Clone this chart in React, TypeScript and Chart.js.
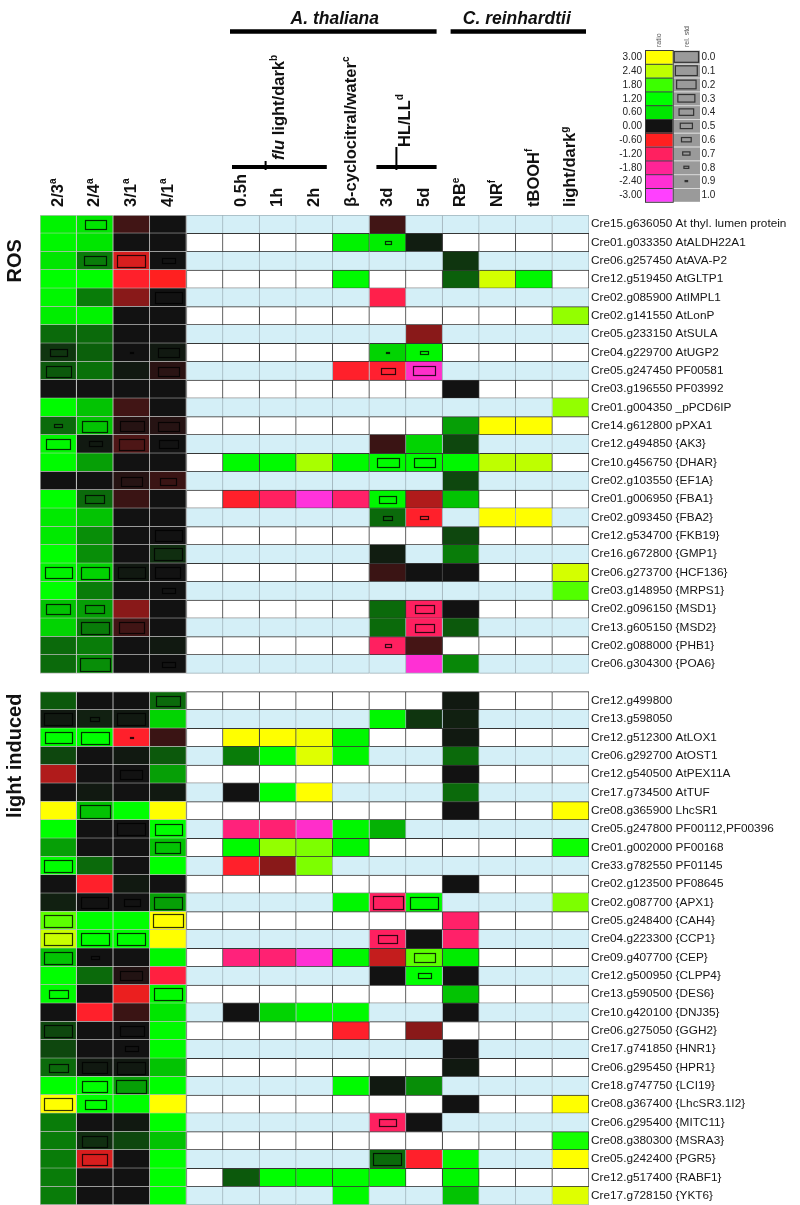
import React, { useEffect, useRef } from "react";
import { Chart, registerables } from "chart.js";

Chart.register(...registerables);

const _ = null;

// ---- row labels ----
const rosGenes = [
  "Cre15.g636050 At thyl. lumen protein",
  "Cre01.g033350 AtALDH22A1",
  "Cre06.g257450 AtAVA-P2",
  "Cre12.g519450 AtGLTP1",
  "Cre02.g085900 AtIMPL1",
  "Cre02.g141550 AtLonP",
  "Cre05.g233150 AtSULA",
  "Cre04.g229700 AtUGP2",
  "Cre05.g247450 PF00581",
  "Cre03.g196550 PF03992",
  "Cre01.g004350 _pPCD6IP",
  "Cre14.g612800 pPXA1",
  "Cre12.g494850 {AK3}",
  "Cre10.g456750 {DHAR}",
  "Cre02.g103550 {EF1A}",
  "Cre01.g006950 {FBA1}",
  "Cre02.g093450 {FBA2}",
  "Cre12.g534700 {FKB19}",
  "Cre16.g672800 {GMP1}",
  "Cre06.g273700 {HCF136}",
  "Cre03.g148950 {MRPS1}",
  "Cre02.g096150 {MSD1}",
  "Cre13.g605150 {MSD2}",
  "Cre02.g088000 {PHB1}",
  "Cre06.g304300 {POA6}",
];

const lightGenes = [
  "Cre12.g499800",
  "Cre13.g598050",
  "Cre12.g512300 AtLOX1",
  "Cre06.g292700 AtOST1",
  "Cre12.g540500 AtPEX11A",
  "Cre17.g734500 AtTUF",
  "Cre08.g365900 LhcSR1",
  "Cre05.g247800 PF00112,PF00396",
  "Cre01.g002000 PF00168",
  "Cre33.g782550 PF01145",
  "Cre02.g123500 PF08645",
  "Cre02.g087700 {APX1}",
  "Cre05.g248400 {CAH4}",
  "Cre04.g223300 {CCP1}",
  "Cre09.g407700 {CEP}",
  "Cre12.g500950 {CLPP4}",
  "Cre13.g590500 {DES6}",
  "Cre10.g420100 {DNJ35}",
  "Cre06.g275050 {GGH2}",
  "Cre17.g741850 {HNR1}",
  "Cre06.g295450 {HPR1}",
  "Cre18.g747750 {LCI19}",
  "Cre08.g367400 {LhcSR3.1I2}",
  "Cre06.g295400 {MITC11}",
  "Cre08.g380300 {MSRA3}",
  "Cre05.g242400 {PGR5}",
  "Cre12.g517400 {RABF1}",
  "Cre17.g728150 {YKT6}",
];

// ---- columns: 2/3, 2/4, 3/1, 4/1, (blank), 0.5h, 1h, 2h, β-cyclocitral, 3d, 5d, RB, NR, tBOOH, light/dark ----
const columnLabels = ["2/3", "2/4", "3/1", "4/1", "", "0.5h", "1h", "2h", "β-cyclocitral/water", "3d", "5d", "RB", "NR", "tBOOH", "light/dark"];
const columnNotes = ["a", "a", "a", "a", "", "", "", "", "c", "", "", "e", "f", "f", "g"];

// ---- log ratios (one row per gene, 14 measured columns) ----
const rosRatio = [
  [0.9, 0.6, -0.12, 0, _, _, _, _, -0.12, _, _, _, _, _],
  [1.0, 0.6, 0, 0, _, _, _, 0.9, 0.8, 0.03, _, _, _, _],
  [0.6, 0.3, -0.5, 0, _, _, _, _, _, _, 0.1, _, _, _],
  [1.2, 1.2, -0.7, -0.6, _, _, _, 1.1, _, _, 0.22, 2.6, 1.0, _],
  [1.0, 0.3, -0.3, 0, _, _, _, _, -1.0, _, _, _, _, _],
  [0.8, 0.9, 0, 0, _, _, _, _, _, _, _, _, _, 2.2],
  [0.25, 0.25, 0, 0, _, _, _, _, _, -0.3, _, _, _, _],
  [0.1, 0.22, 0, 0.02, _, _, _, _, 0.55, 1.0, _, _, _, _],
  [0.2, 0.27, 0.02, -0.06, _, _, _, -0.7, -0.75, -2.3, _, _, _, _],
  [0, 0, 0, 0, _, _, _, _, _, _, 0, _, _, _],
  [1.1, 0.5, -0.12, 0, _, _, _, _, _, _, _, _, _, 2.2],
  [0.25, 0.5, -0.05, -0.05, _, _, _, _, _, _, 0.4, 3.0, 3.0, _],
  [1.0, 0.02, -0.15, 0, _, _, _, _, -0.1, 0.55, 0.15, _, _, _],
  [1.1, 0.4, 0, 0, 1.1, 1.1, 2.3, 1.1, 1.1, 1.1, 1.0, 2.4, 2.4, _],
  [0, 0, -0.05, -0.1, _, _, _, _, _, _, 0.15, _, _, _],
  [1.2, 0.25, -0.1, 0, -0.7, -1.2, -2.5, -1.3, 1.0, -0.4, 0.5, _, _, _],
  [0.7, 0.5, 0, 0, _, _, _, _, 0.25, -0.7, _, 3.0, 3.0, _],
  [0.7, 0.35, 0, 0, _, _, _, _, _, _, 0.15, _, _, _],
  [1.2, 0.35, 0, 0.08, _, _, _, _, 0.03, _, 0.3, _, _, _],
  [0.9, 0.55, 0.02, 0, _, _, _, _, -0.1, 0, 0, _, _, 2.6],
  [1.2, 0.3, 0, 0, _, _, _, _, _, _, _, _, _, 1.9],
  [0.5, 0.4, -0.3, 0, _, _, _, _, 0.25, -1.2, 0, _, _, _],
  [0.55, 0.3, -0.12, 0, _, _, _, _, 0.25, -1.2, 0.2, _, _, _],
  [0.25, 0.3, 0, 0.02, _, _, _, _, -1.2, -0.13, _, _, _, _],
  [0.25, 0.35, 0, 0, _, _, _, _, _, -2.4, 0.33, _, _, _],
];

const lightRatio = [
  [0.2, 0, 0, 0.25, _, _, _, _, _, _, 0.02, _, _, _],
  [0.02, 0.04, 0.02, 0.55, _, _, _, _, 1.0, 0.1, 0.04, _, _, _],
  [1.2, 1.2, -0.7, -0.1, 3.0, 3.0, 2.9, 1.0, _, _, 0.02, _, _, _],
  [0.15, 0, 0.02, 0.2, 0.3, 1.1, 2.7, 1.0, _, _, 0.25, _, _, _],
  [-0.4, 0, 0, 0.4, _, _, _, _, _, _, 0, _, _, _],
  [0, 0.02, 0, 0.02, 0, 1.2, 3.0, _, _, _, 0.25, _, _, _],
  [3.0, 0.5, 1.2, 3.0, _, _, _, _, _, _, 0, _, _, 3.0],
  [1.2, 0, 0, 1.2, -1.5, -1.4, -2.3, 1.0, 0.45, _, _, _, _, _],
  [0.4, 0, 0, 0.5, 1.1, 2.2, 2.1, 1.0, _, _, _, _, _, 1.3],
  [1.2, 0.25, 0, 1.2, -0.7, -0.3, 2.1, _, _, _, _, _, _, _],
  [0, -0.7, 0.02, 0, _, _, _, _, _, _, 0, _, _, _],
  [0.04, 0, 0, 0.4, _, _, _, 1.0, -1.2, 1.1, _, _, _, 2.1],
  [1.95, 1.2, 1.2, 3.0, _, _, _, _, _, _, -1.3, _, _, _],
  [2.5, 1.2, 1.2, 3.0, _, _, _, _, -1.2, 0, -1.3, _, _, _],
  [0.5, 0, 0, 1.0, -1.5, -1.4, -2.4, 1.0, -0.45, 1.95, 0.75, _, _, _],
  [1.2, 0.25, -0.04, -0.9, _, _, _, _, 0, 1.2, 0, _, _, _],
  [1.1, 0, -0.55, 1.1, _, _, _, _, _, _, 0.5, _, _, _],
  [0, -0.7, -0.1, 0.6, 0, 0.55, 1.1, 1.1, _, _, 0, _, _, _],
  [0.15, 0, 0, 1.1, _, _, _, -0.7, _, -0.3, _, _, _, _],
  [0.15, 0, 0, 1.1, _, _, _, _, _, _, 0, _, _, _],
  [0.25, 0.02, 0.02, 0.5, _, _, _, _, _, _, 0.02, _, _, _],
  [1.2, 1.2, 0.4, 1.2, _, _, _, 1.1, 0.02, 0.35, _, _, _, _],
  [3.0, 1.2, 1.2, 3.0, _, _, _, _, _, _, 0, _, _, 3.0],
  [0.3, 0, 0.02, 1.2, _, _, _, _, -1.2, 0, _, _, _, _],
  [0.3, 0.08, 0.15, 0.5, _, _, _, _, _, _, _, _, _, 1.4],
  [0.3, -0.5, 0, 1.2, _, _, _, _, 0.25, -0.7, 1.1, _, _, 3.0],
  [0.3, 0, 0, 1.2, 0.2, 1.2, 1.2, 1.2, 1.2, _, 1.0, _, _, _],
  [0.3, 0, 0, 1.2, _, _, _, 1.1, _, _, 0.5, _, _, 2.7],
];

// ---- relative standard deviations: [row, measured column, rel. std] ----
const rosStd = [
  [0, 1, 0.35], [1, 8, 0.8], [2, 1, 0.3], [2, 2, 0.1], [2, 3, 0.6], [4, 3, 0.15],
  [7, 0, 0.45], [7, 2, 0.9], [7, 3, 0.35], [7, 8, 0.9], [7, 9, 0.75],
  [8, 0, 0.2], [8, 3, 0.35], [8, 8, 0.55], [8, 9, 0.3],
  [11, 0, 0.75], [11, 1, 0.2], [11, 2, 0.25], [11, 3, 0.35],
  [12, 0, 0.25], [12, 1, 0.6], [12, 2, 0.2], [12, 3, 0.4],
  [13, 8, 0.3], [13, 9, 0.35], [14, 2, 0.35], [14, 3, 0.5],
  [15, 1, 0.4], [15, 8, 0.45], [16, 8, 0.7], [16, 9, 0.75], [17, 3, 0.15], [18, 3, 0.1],
  [19, 0, 0.15], [19, 1, 0.1], [19, 2, 0.15], [19, 3, 0.2], [20, 3, 0.6],
  [21, 0, 0.25], [21, 1, 0.4], [21, 9, 0.4], [22, 1, 0.1], [22, 2, 0.2], [22, 9, 0.4],
  [23, 8, 0.8], [24, 1, 0.05], [24, 3, 0.6],
];

const lightStd = [
  [0, 3, 0.25], [1, 0, 0.1], [1, 1, 0.7], [1, 2, 0.1],
  [2, 0, 0.15], [2, 1, 0.1], [2, 2, 0.9], [4, 2, 0.3], [6, 1, 0.05],
  [7, 2, 0.1], [7, 3, 0.15], [8, 3, 0.2], [9, 0, 0.1],
  [11, 1, 0.15], [11, 2, 0.5], [11, 3, 0.1], [11, 8, 0.05], [11, 9, 0.1],
  [12, 0, 0.1], [12, 3, 0.05], [13, 0, 0.1], [13, 1, 0.1], [13, 2, 0.1], [13, 8, 0.4],
  [14, 0, 0.1], [14, 1, 0.75], [14, 9, 0.35], [15, 2, 0.3], [15, 9, 0.6],
  [16, 0, 0.4], [16, 3, 0.1], [18, 0, 0.1], [18, 2, 0.25], [19, 2, 0.6],
  [20, 0, 0.4], [20, 1, 0.2], [20, 2, 0.1], [21, 1, 0.2], [21, 2, 0.05],
  [22, 0, 0.1], [22, 1, 0.35], [23, 8, 0.45], [24, 1, 0.2], [25, 1, 0.2], [25, 8, 0.1],
];

// ---- legend ----
const legendRatios = [3.0, 2.4, 1.8, 1.2, 0.6, 0.0, -0.6, -1.2, -1.8, -2.4, -3.0];
const legendStds = [0.0, 0.1, 0.2, 0.3, 0.4, 0.5, 0.6, 0.7, 0.8, 0.9, 1.0];

// ---- colour scale ----
const posStops: [number, number[]][] = [
  [0, [18, 18, 18]], [0.6, [0, 230, 0]], [1.2, [0, 255, 0]], [1.8, [60, 255, 0]], [2.4, [190, 255, 0]], [3, [255, 255, 0]],
];
const negStops: [number, number[]][] = [
  [0, [18, 18, 18]], [0.6, [255, 32, 32]], [1.2, [255, 32, 96]], [1.8, [255, 36, 150]], [2.4, [255, 48, 212]], [3, [255, 64, 255]],
];
function colorFor(v: number): string {
  const stops = v >= 0 ? posStops : negStops;
  const a = Math.min(3, Math.abs(v));
  for (let i = 1; i < stops.length; i++) {
    if (a <= stops[i][0]) {
      const [a0, c0] = stops[i - 1];
      const [a1, c1] = stops[i];
      const t = (a - a0) / (a1 - a0);
      const c = c0.map((k, j) => Math.round(k + (c1[j] - k) * t));
      return `rgb(${c[0]},${c[1]},${c[2]})`;
    }
  }
  const c = stops[stops.length - 1][1];
  return `rgb(${c[0]},${c[1]},${c[2]})`;
}

const BLUE = "#d4eff7";
const FONT = "'Liberation Sans', Arial, Helvetica, sans-serif";

type Row = { gap: boolean; blue: boolean; first: boolean; last: boolean; ratio: (number | null)[]; std: (number | null)[] };

function buildRows(): Row[] {
  const rows: Row[] = [];
  const add = (ratios: (number | null)[][], stds: number[][], blueEven: boolean) => {
    ratios.forEach((vals, i) => {
      const std: (number | null)[] = new Array(14).fill(null);
      stds.forEach(([r, c, s]) => {
        if (r === i) std[c] = s;
      });
      rows.push({ gap: false, blue: (i % 2 === 0) === blueEven, first: i === 0, last: i === ratios.length - 1, ratio: vals, std });
    });
  };
  add(rosRatio, rosStd, true);
  rows.push({ gap: true, blue: false, first: false, last: false, ratio: [], std: [] });
  add(lightRatio, lightStd, false);
  return rows;
}

function measuredIndex(col: number): number {
  if (col < 4) return col;
  if (col === 4) return -1;
  return col - 1;
}

function drawVertical(ctx: CanvasRenderingContext2D, parts: { t: string; font: string; dy?: number }[], x: number, yBottom: number, color = "#111") {
  ctx.save();
  ctx.translate(x, yBottom);
  ctx.rotate(-Math.PI / 2);
  ctx.textBaseline = "middle";
  ctx.textAlign = "left";
  ctx.fillStyle = color;
  let px = 0;
  for (const p of parts) {
    ctx.font = p.font;
    ctx.fillText(p.t, px, p.dy || 0);
    px += ctx.measureText(p.t).width;
  }
  ctx.restore();
}

export default function App() {
  const ref = useRef<HTMLCanvasElement | null>(null);

  useEffect(() => {
    const canvas = ref.current;
    if (!canvas) return;
    const rows = buildRows();
    const labels = [...rosGenes, "", ...lightGenes];

    const datasets = Array.from({ length: 15 }, (_x, col) => {
      const mi = measuredIndex(col);
      return {
        label: columnLabels[col] || "blank",
        data: rows.map((r) => (r.gap ? null : [col, col + 1])),
        backgroundColor: rows.map((r) => {
          if (r.gap) return "rgba(0,0,0,0)";
          const v = mi >= 0 ? r.ratio[mi] : null;
          if (v !== null && v !== undefined) return colorFor(v);
          return r.blue ? BLUE : "#ffffff";
        }),
        borderColor: rows.map((r) => (col < 4 ? "#bcbcbc" : r.blue ? "#9fb3bb" : "#363636")),
        borderWidth: (c: any) => {
          const r = rows[c.dataIndex];
          if (!r || r.gap) return 0;
          if (col < 4) return { top: r.first ? 1 : 0, left: col === 0 ? 1 : 0, right: 1, bottom: 1 };
          const left = col === 4 ? 1 : 0;
          if (!r.blue) return { top: 1, bottom: 1, right: 1, left };
          return { top: r.first ? 1 : 0, bottom: r.last ? 1 : 0, right: 1, left };
        },
        borderSkipped: false,
        grouped: false,
        barPercentage: 1,
        categoryPercentage: 1,
      };
    });

    const decor = {
      id: "decor",
      afterDatasetsDraw(chart: any) {
        const { ctx } = chart;
        const x = chart.scales.x;
        const y = chart.scales.y;
        const colW = x.getPixelForValue(1) - x.getPixelForValue(0);
        const rowH = y.getPixelForValue(1) - y.getPixelForValue(0);

        // relative std rectangles
        ctx.save();
        ctx.strokeStyle = "rgba(0,0,0,0.8)";
        ctx.lineWidth = 1.2;
        rows.forEach((r, ri) => {
          if (r.gap) return;
          r.std.forEach((s, mi) => {
            if (s === null || s >= 1) return;
            const col = mi < 4 ? mi : mi + 1;
            const cx = x.getPixelForValue(col + 0.5);
            const cy = y.getPixelForValue(ri);
            const w = (colW - 5) * (1 - s);
            const h = (rowH - 5) * (1 - s);
            ctx.strokeRect(Math.round(cx - w / 2) + 0.5, Math.round(cy - h / 2) + 0.5, Math.max(1, Math.round(w)), Math.max(1, Math.round(h)));
          });
        });
        ctx.restore();

        const top = chart.chartArea.top;
        const headFont = `bold 16.5px ${FONT}`;
        const supFont = `bold 10px ${FONT}`;
        // column headers
        columnLabels.forEach((lab, col) => {
          if (!lab) return;
          const parts: any[] = [{ t: lab, font: headFont }];
          if (columnNotes[col]) parts.push({ t: columnNotes[col], font: supFont, dy: -5 });
          drawVertical(ctx, parts, x.getPixelForValue(col + 0.5), top - 8);
        });

        // flu light/dark
        drawVertical(
          ctx,
          [
            { t: "flu", font: `italic bold 16.5px ${FONT}` },
            { t: " light/dark", font: headFont },
            { t: "b", font: supFont, dy: -5 },
          ],
          x.getPixelForValue(6.5) + 1.5,
          top - 55
        );
        drawVertical(ctx, [{ t: "HL/LL", font: headFont }, { t: "d", font: supFont, dy: -5 }], x.getPixelForValue(10) - 1, top - 68);

        ctx.save();
        ctx.strokeStyle = "#000";
        ctx.lineWidth = 4;
        const hline = (x0: number, x1: number, yy: number) => {
          ctx.beginPath();
          ctx.moveTo(x0, yy);
          ctx.lineTo(x1, yy);
          ctx.stroke();
        };
        hline(x.getPixelForValue(5) + 9, x.getPixelForValue(8) - 6, top - 48);
        hline(x.getPixelForValue(9) + 7, x.getPixelForValue(11) - 6, top - 48);
        ctx.lineWidth = 4.5;
        hline(x.getPixelForValue(5) + 7, x.getPixelForValue(11) - 6, 31.5);
        hline(x.getPixelForValue(11) + 8, x.getPixelForValue(15) - 3, 31.5);
        ctx.lineWidth = 2;
        ctx.beginPath();
        ctx.moveTo(x.getPixelForValue(6) + 6, top - 54);
        ctx.lineTo(x.getPixelForValue(6) + 6, top - 45);
        ctx.moveTo(x.getPixelForValue(9) + 27, top - 68);
        ctx.lineTo(x.getPixelForValue(9) + 27, top - 45);
        ctx.stroke();
        ctx.restore();

        // organism titles
        ctx.save();
        ctx.fillStyle = "#111";
        ctx.font = `italic bold 17.5px ${FONT}`;
        ctx.textAlign = "center";
        ctx.textBaseline = "alphabetic";
        ctx.fillText("A. thaliana", (x.getPixelForValue(5) + x.getPixelForValue(11)) / 2 + 2, 24);
        ctx.fillText("C. reinhardtii", (x.getPixelForValue(11) + x.getPixelForValue(15)) / 2 + 1, 24);
        ctx.restore();

        // section labels
        ctx.save();
        ctx.fillStyle = "#111";
        ctx.font = `bold 20px ${FONT}`;
        ctx.textAlign = "center";
        ctx.textBaseline = "middle";
        ctx.translate(15, y.getPixelForValue(2));
        ctx.rotate(-Math.PI / 2);
        ctx.fillText("ROS", 0, 0);
        ctx.restore();
        ctx.save();
        ctx.fillStyle = "#111";
        ctx.font = `bold 20px ${FONT}`;
        ctx.textAlign = "center";
        ctx.textBaseline = "middle";
        ctx.translate(15, y.getPixelForValue(rosGenes.length + 1 + 3));
        ctx.rotate(-Math.PI / 2);
        ctx.fillText("light induced", 0, 0);
        ctx.restore();

        // legend
        const lx0 = 645, lx1 = 672.7, lx2 = 700, ly0 = 50, lh = 13.8;
        const midY = (yy: number) => yy + lh / 2 + 0.5;
        ctx.save();
        legendRatios.forEach((v, i) => {
          const yy = ly0 + i * lh;
          ctx.fillStyle = colorFor(v);
          ctx.fillRect(lx0, yy, lx1 - lx0, lh);
          ctx.fillStyle = "#9a9a9a";
          ctx.fillRect(lx1 + 0.6, yy, lx2 - lx1 - 0.6, lh);
          const s = legendStds[i];
          if (s < 1) {
            const bw = (lx2 - lx1 - 3) * (1 - s);
            const bh = (lh - 3) * (1 - s);
            const cx = (lx1 + lx2) / 2, cy = yy + lh / 2;
            ctx.strokeStyle = "#333";
            ctx.lineWidth = 1.2;
            ctx.strokeRect(cx - bw / 2, cy - bh / 2, Math.max(1, bw), Math.max(1, bh));
          }
          ctx.strokeStyle = "#d8d8d8";
          ctx.lineWidth = 1;
          ctx.beginPath();
          ctx.moveTo(lx1, yy + 0.5);
          ctx.lineTo(lx2, yy + 0.5);
          ctx.stroke();
          ctx.strokeStyle = "#3a3a3a";
          ctx.beginPath();
          ctx.moveTo(lx0, yy + 0.5);
          ctx.lineTo(lx1, yy + 0.5);
          ctx.stroke();
          ctx.fillStyle = "#222";
          ctx.font = `10px ${FONT}`;
          ctx.textBaseline = "middle";
          ctx.textAlign = "right";
          ctx.fillText(v.toFixed(2), lx0 - 3, midY(yy));
          ctx.textAlign = "left";
          ctx.fillText(s.toFixed(1), lx2 + 1.5, midY(yy));
        });
        ctx.strokeStyle = "#3a3a3a";
        ctx.lineWidth = 1;
        ctx.strokeRect(lx0 + 0.5, ly0 + 0.5, lx1 - lx0, legendRatios.length * lh);
        ctx.restore();
        drawVertical(ctx, [{ t: "ratio", font: `7px ${FONT}` }], 659, 47, "#555");
        drawVertical(ctx, [{ t: "rel. std", font: `7px ${FONT}` }], 687, 47, "#555");
      },
    };

    const chart = new Chart(canvas, {
      type: "bar",
      data: { labels, datasets: datasets as any },
      options: {
        indexAxis: "y",
        animation: false,
        responsive: false,
        events: [],
        layout: { padding: { left: 40, top: 215, right: 0, bottom: 0 } },
        plugins: { legend: { display: false }, tooltip: { enabled: false } },
        scales: {
          x: { type: "linear", min: 0, max: 15, display: false },
          y: {
            type: "category",
            position: "right",
            offset: true,
            grid: { display: false, drawTicks: false },
            border: { display: false },
            ticks: {
              autoSkip: false,
              padding: 2,
              color: "#151515",
              font: { family: FONT, size: 11.8 },
              crossAlign: "near",
            },
            afterFit: (s: any) => {
              s.width = 211;
              s.paddingTop = 0;
              s.paddingBottom = 0;
            },
          },
        },
      } as any,
      plugins: [decor],
    });
    return () => chart.destroy();
  }, []);

  return (
    <div style={{ position: "absolute", left: 0, top: 0, width: 800, height: 1205, background: "#fff" }}>
      <canvas ref={ref} width={800} height={1205} style={{ display: "block", width: 800, height: 1205 }} />
    </div>
  );
}
